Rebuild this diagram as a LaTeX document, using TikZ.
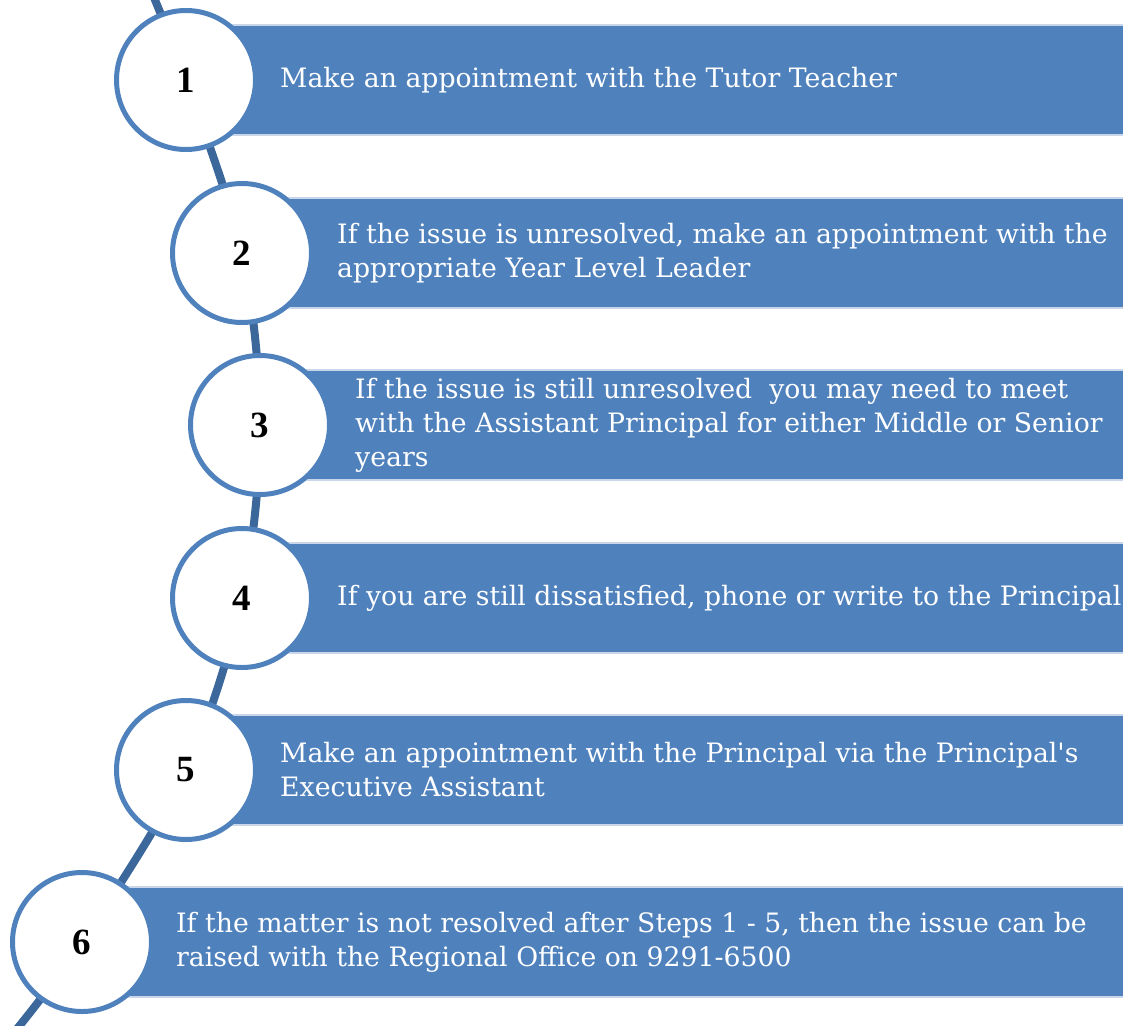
\documentclass[tikz,border=0pt]{standalone}
\usepackage{fontspec}
\setmainfont{Liberation Serif}
\newfontfamily\stepfont{DejaVu Serif}
\definecolor{boxblue}{HTML}{4F81BD}
\definecolor{spineblue}{HTML}{3C679B}
\definecolor{edgeblue}{HTML}{C9D6EA}
\begin{document}
\begin{tikzpicture}[x=1pt,y=-1pt,
 stepcircle/.style={circle, draw=boxblue, line width=5pt, fill=white, minimum size=139pt, inner sep=0pt, font=\fontsize{37}{40}\selectfont\bfseries},
 stepbox/.style={rectangle, fill=boxblue, draw=edgeblue, line width=1.2pt, minimum height=110pt, anchor=west, inner sep=0pt},
 steptext/.style={anchor=west, align=left, text=white, font=\stepfont\fontsize{26.7}{34}\selectfont, inner sep=0pt},
 spine/.style={draw=spineblue, line width=8pt}]
\useasboundingbox (0,0) rectangle (1123,1025);
\coordinate (p1) at (186,80);
\coordinate (p2) at (242,253);
\coordinate (p3) at (260,425);
\coordinate (p4) at (242,598);
\coordinate (p5) at (186,770);
\coordinate (p6) at (82,942);
\coordinate (top) at (150,-12);
\coordinate (bot) at (8,1040);
\draw[spine] plot[smooth, tension=0.55] coordinates {(top) (p1) (p2) (p3) (p4) (p5) (p6) (bot)};
% boxes
\node[stepbox, minimum width=937pt] (b1) at (p1) {};
\node[stepbox, minimum width=881pt] (b2) at (p2) {};
\node[stepbox, minimum width=863pt] (b3) at (p3) {};
\node[stepbox, minimum width=881pt] (b4) at (p4) {};
\node[stepbox, minimum width=937pt] (b5) at (p5) {};
\node[stepbox, minimum width=1041pt] (b6) at (p6) {};
% circles
\node[stepcircle] (c1) at (p1) {1};
\node[stepcircle] (c2) at (p2) {2};
\node[stepcircle] (c3) at (p3) {3};
\node[stepcircle] (c4) at (p4) {4};
\node[stepcircle] (c5) at (p5) {5};
\node[stepcircle] (c6) at (p6) {6};
% texts
\node[steptext] (t1) at ([xshift=94pt]p1) {Make an appointment with the Tutor Teacher};
\node[steptext] (t2) at ([xshift=95pt]p2) {If the issue is unresolved, make an appointment with the\\appropriate Year Level Leader};
\node[steptext] (t3) at ([xshift=95pt]p3) {If the issue is still unresolved\ \ you may need to meet\\with the Assistant Principal for either Middle or Senior\\years};
\node[steptext] (t4) at ([xshift=95pt]p4) {If you are still dissatisfied, phone or write to the Principal};
\node[steptext] (t5) at ([xshift=94pt]p5) {Make an appointment with the Principal via the Principal's\\Executive Assistant};
\node[steptext] (t6) at ([xshift=94pt]p6) {If the matter is not resolved after Steps 1 - 5, then the issue can be\\raised with the Regional Office on 9291-6500};
\end{tikzpicture}
\end{document}
